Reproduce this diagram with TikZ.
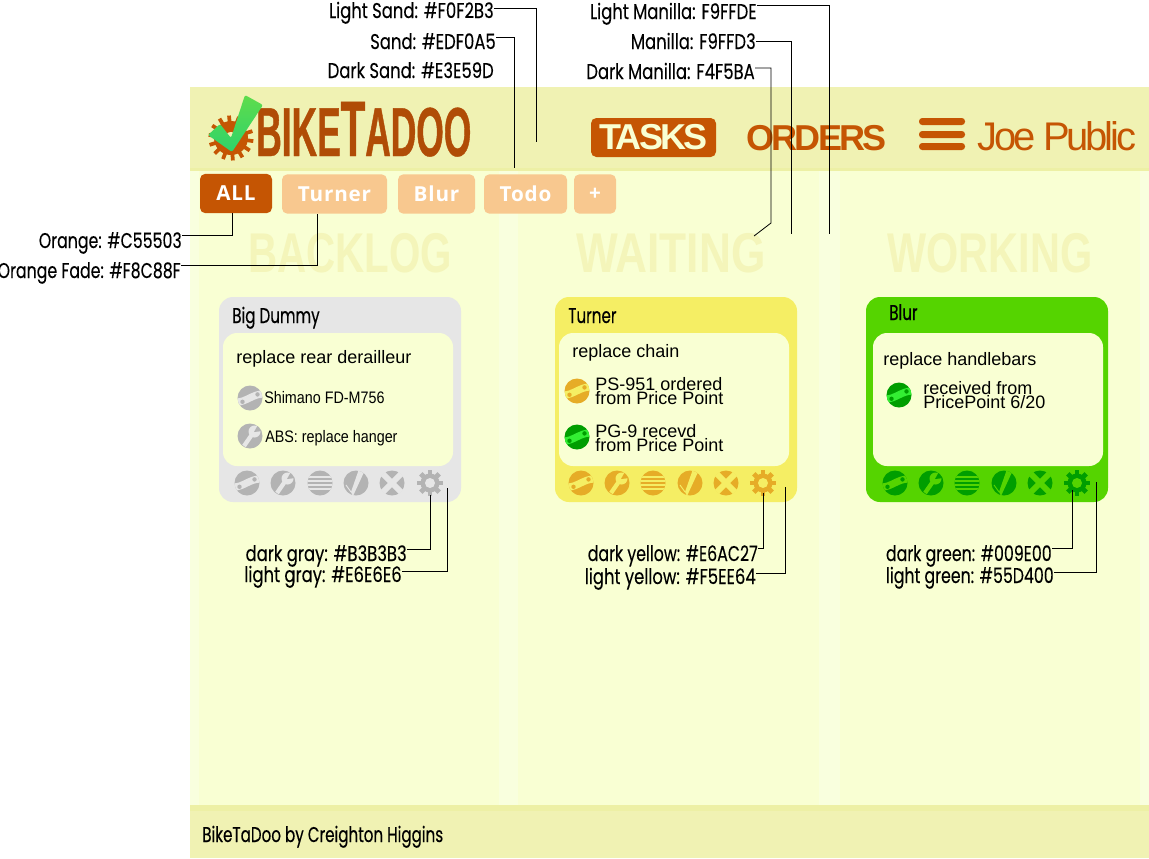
\documentclass[tikz,border=0pt]{standalone}
\usepackage{fontspec}
\setmainfont{Liberation Sans}
\newfontfamily\futfont[FakeStretch=0.77,FakeBold=0.15]{Poppins}
\newfontfamily\futnfont[FakeStretch=0.74,FakeBold=0.15]{Poppins}
\newfontfamily\titlefont[FakeStretch=0.71,FakeBold=0.3]{Poppins}
\newfontfamily\colfont[FakeStretch=0.72]{Liberation Sans Bold}
\newfontfamily\colwfont[FakeStretch=0.79]{Liberation Sans Bold}
\newfontfamily\colkfont[FakeStretch=0.74]{Liberation Sans Bold}
\newfontfamily\logofont[FakeStretch=0.51,FakeBold=0.6]{Liberation Sans Bold}
\newfontfamily\navbold[LetterSpace=-7.5]{Liberation Sans Bold}
\newfontfamily\navreg[LetterSpace=-8]{Liberation Sans}
\newfontfamily\tabfont[LetterSpace=4]{Open Sans Bold}
\newfontfamily\narrowfont[FakeStretch=0.86]{Liberation Sans}
\definecolor{lsand}{HTML}{F0F2B3}
\definecolor{sand}{HTML}{EDF0A5}
\definecolor{lman}{HTML}{F9FFDE}
\definecolor{man}{HTML}{F9FFD3}
\definecolor{dman}{HTML}{F4F5BA}
\definecolor{orange1}{HTML}{C55503}
\definecolor{fade1}{HTML}{F8C88F}
\definecolor{gdark}{HTML}{B3B3B3}
\definecolor{glight}{HTML}{E6E6E6}
\definecolor{ydark}{HTML}{E6AC27}
\definecolor{ylight}{HTML}{F5EE64}
\definecolor{grdark}{HTML}{009E00}
\definecolor{grlight}{HTML}{55D400}
\definecolor{grband}{HTML}{33EE33}
\definecolor{logoC}{HTML}{B04C06}
\tikzset{
  lab/.style={font=\futfont\fontsize{16}{16}\selectfont,anchor=base east,inner sep=0pt,text=black},
  labn/.style={lab,font=\futnfont\fontsize{16}{16}\selectfont},
  ln/.style={draw=black,line width=0.6pt},
  tabbox/.style={rounded corners=4pt,inner sep=0pt,text=white,font=\tabfont\fontsize{15.5}{16}\selectfont,minimum height=29.5pt},
  coltitle/.style={font=\colfont\fontsize{42}{42}\selectfont,text=dman,inner sep=0pt,anchor=base},
  cardtitle/.style={font=\titlefont\fontsize{16}{16}\selectfont,anchor=base west,inner sep=0pt},
  tasktext/.style={font=\fontsize{13.5}{14}\selectfont,anchor=base west,inner sep=0pt},
  smalltext/.style={font=\narrowfont\fontsize{12.5}{13}\selectfont,anchor=base west,inner sep=0pt},
  twoline/.style={font=\fontsize{13.5}{10.1}\selectfont,align=left,anchor=west,inner sep=0pt},
  pics/linkicon/.style n args={2}{code={
    \fill[#1] (0,0) circle (12.5);
    \begin{scope}
      \clip (0,0) circle (12.5);
      \draw[#2,line width=5.4pt] (-13,4) .. controls (-4,4) and (3,-4) .. (13,-4);
    \end{scope}
    \fill[#1] (-7.5,3.8) circle (2.2) (7.5,-3.6) circle (2.2);
  }},
  pics/wrenchicon/.style n args={2}{code={
    \fill[#1] (0,0) circle (12.5);
    \begin{scope}
      \clip (0,0) circle (12.5);
      \draw[#2,line width=3.2pt] (-6,10) -- (3,-3);
      \fill[#2] (4.5,-4.5) circle (6);
      \fill[#1] (4,-4) -- (9,-13) -- (13,-5) -- cycle;
    \end{scope}
  }},
  pics/linesicon/.style n args={2}{code={
    \fill[#1] (0,0) circle (12.5);
    \begin{scope}
      \clip (0,0) circle (12.5);
      \foreach \yy in {-6,-2,2,6} \draw[#2,line width=1.1pt] (-13,\yy) -- (13,\yy);
    \end{scope}
  }},
  pics/checkicon/.style n args={2}{code={
    \fill[#1] (0,0) circle (12.5);
    \begin{scope}
      \clip (0,0) circle (12.5);
      \fill[#2] (3,-14) -- (9,-13) -- (-3,13) -- (-5,9) -- cycle;
      \draw[#2,line width=0.7pt] (-10,2) -- (-5,9);
    \end{scope}
  }},
  pics/crossicon/.style n args={2}{code={
    \fill[#1] (0,0) circle (12.5);
    \begin{scope}
      \clip (0,0) circle (13);
      \draw[#2,line width=4.4pt] (-13,-13) -- (13,13) (-13,13) -- (13,-13);
    \end{scope}
  }},
  pics/gearicon/.style n args={2}{code={
    \fill[#1] (0,0) circle (9.5);
    \foreach \aa in {0,45,...,315} \draw[#1,line width=3.6pt] (0,0) ++(\aa:7) -- ++(\aa:6);
    \fill[#2] (0,0) circle (5);
  }},
}
\newcommand{\toolrow}[8]{%
  \pic at (#1,483) {linkicon={#7}{#8}};
  \pic at (#2,483) {wrenchicon={#7}{#8}};
  \pic at (#3,483) {linesicon={#7}{#8}};
  \pic at (#4,483) {checkicon={#7}{#8}};
  \pic at (#5,483) {crossicon={#7}{#8}};
  \pic at (#6,483) {gearicon={#7}{#8}};
}
\begin{document}
\begin{tikzpicture}[x=0.75pt,y=-0.75pt]
\useasboundingbox (0,0) rectangle (1149,858);
% page
\fill[man] (190,87) rectangle (1149,858);
\fill[lman] (190,170) rectangle (199,806);
\fill[lman] (499,170) rectangle (518,806);
\fill[lman] (819,170) rectangle (840,806);
\fill[lman] (1140,170) rectangle (1149,806);
\fill[lsand] (190,87) rectangle (1149,168);
\fill[sand] (190,168) rectangle (1149,171);
\fill[sand] (190,805) rectangle (1149,811);
\fill[lsand] (190,811) rectangle (1149,858);
% logo
\fill[orange1] (231,138) circle (17);
\foreach \aa in {0,25.7,...,340} \draw[orange1,line width=2.8pt] (231,138) ++(\aa+8:14) -- ++(\aa+8:8.5);
\fill[lsand] (231,138) circle (6);
\node[font=\logofont\fontsize{52}{52}\selectfont,text=logoC,anchor=base west,inner sep=0pt] (logo) at (256,156) {BIKE{\fontsize{59}{59}\selectfont T}ADOO};
\shade[rounded corners=1.5pt,
  top color={rgb,255:red,95;green,220;blue,76},bottom color={rgb,255:red,46;green,211;blue,106}]
  (208,135) -- (220,124) -- (231,138) -- (245,95) -- (263,105) -- (232,152) -- cycle;
% nav
\node[fill=orange1,rounded corners=4pt,minimum width=125*0.75pt,minimum height=39*0.75pt,inner sep=0pt,text=man,font=\navbold\fontsize{27}{27}\selectfont] (tasks) at (653.5,137.5) {TASKS};
\node[text=orange1,font=\navbold\fontsize{27}{27}\selectfont,anchor=base west,inner sep=0pt] (orders) at (746,150) {ORDERS};
\fill[orange1,rounded corners=2.4pt] (919,118) rectangle (965,125) (919,131) rectangle (965,138) (919,143) rectangle (965,150);
\node[text=orange1,font=\navreg\fontsize{30}{30}\selectfont,anchor=base west,inner sep=0pt] (joe) at (977,150) {Joe Public};
% tabs
\node[tabbox,fill=orange1,minimum width=72*0.75pt] (tabAll) at (236,193.5) {ALL};
\node[tabbox,fill=fade1,minimum width=105*0.75pt] (tabTurner) at (334.5,194) {Turner};
\node[tabbox,fill=fade1,minimum width=77*0.75pt] (tabBlur) at (436.5,194) {Blur};
\node[tabbox,fill=fade1,minimum width=83*0.75pt] (tabTodo) at (525.5,194) {Todo};
\node[tabbox,fill=fade1,minimum width=42*0.75pt] (tabPlus) at (595,194) {+};
% column titles
\node[coltitle] (backlog) at (350,272) {BACKLOG};
\node[coltitle,font=\colwfont\fontsize{42}{42}\selectfont] (waiting) at (671,272) {WAITING};
\node[coltitle,font=\colkfont\fontsize{42}{42}\selectfont] (working) at (990,272) {WORKING};
% cards
\fill[glight,rounded corners=10.5pt] (219,297) rectangle (461,502);
\fill[man,rounded corners=10.5pt] (223,333) rectangle (453,466);
\fill[ylight,rounded corners=10.5pt] (555,297) rectangle (797,502);
\fill[man,rounded corners=10.5pt] (559,333) rectangle (789,466);
\fill[grlight,rounded corners=10.5pt] (866,297) rectangle (1108,502);
\fill[man,rounded corners=10.5pt] (873,333) rectangle (1103,466);
\toolrow{247}{283}{320}{356}{392}{430}{gdark}{glight}
\toolrow{581}{617}{653}{690}{726}{763}{ydark}{ylight}
\toolrow{895}{931}{967}{1004}{1040}{1077}{grdark}{grlight}
% gray card
\node[cardtitle] (t1) at (232,323) {Big Dummy};
\node[tasktext] (d1) at (236,363) {replace rear derailleur};
\pic at (250,398) {linkicon={gdark}{glight}};
\node[smalltext] (s1) at (264,403) {Shimano FD-M756};
\pic at (250,436) {wrenchicon={gdark}{glight}};
\node[smalltext] (s2) at (265,442) {ABS: replace hanger};
% yellow card
\node[cardtitle] (t2) at (568,323) {Turner};
\node[tasktext] (d2) at (572,357) {replace chain};
\pic at (577,391) {linkicon={ydark}{ylight}};
\node[twoline] (s3) at (595,391) {PS-951 ordered\\from Price Point};
\pic at (577,437) {linkicon={grdark}{grband}};
\node[twoline] (s4) at (595,438) {PG-9 recevd\\from Price Point};
% green card
\node[cardtitle] (t3) at (889,320) {Blur};
\node[tasktext] (d3) at (883,365) {replace handlebars};
\pic at (899,395) {linkicon={grdark}{grband}};
\node[twoline] (s5) at (923,395) {received from\\PricePoint 6/20};
% footer
\node[cardtitle] (foot) at (202,842) {BikeTaDoo by Creighton Higgins};
% labels
\node[lab] (lLS) at (494,18) {Light Sand: \#F0F2B3};
\node[lab] (lS) at (496,49) {Sand: \#EDF0A5};
\node[lab] (lDS) at (494,78) {Dark Sand: \#E3E59D};
\node[lab] (lLM) at (757,19) {Light Manilla: F9FFDE};
\node[lab] (lM) at (756,49) {Manilla: F9FFD3};
\node[lab] (lDM) at (755,79) {Dark Manilla: F4F5BA};
\node[labn] (lO) at (182,248) {Orange: \#C55503};
\node[labn] (lOF) at (181,278) {Orange Fade: \#F8C88F};
\node[lab] (lDG) at (407,561) {dark gray: \#B3B3B3};
\node[lab] (lLG) at (402,582) {light gray: \#E6E6E6};
\node[labn] (lDY) at (758,561) {dark yellow: \#E6AC27};
\node[lab] (lLY) at (756,584) {light yellow: \#F5EE64};
\node[labn] (lDGr) at (1052,561) {dark green: \#009E00};
\node[labn] (lLGr) at (1054,583) {light green: \#55D400};
% free connector ends
\coordinate (eLS) at (536,142);
\coordinate (eS) at (514,168);
\coordinate (eLM) at (829,234);
\coordinate (eM) at (791,234);
\coordinate (bDM) at (771,223);
\coordinate (eDM) at (754,236);
\coordinate (eDG) at (430,495);
\coordinate (eLG) at (447,488);
\coordinate (eDY) at (763,493);
\coordinate (eLY) at (785,487);
\coordinate (eDGr) at (1072,490);
\coordinate (eLGr) at (1096,482);
% connectors
\draw[ln] (lLS.base east) ++(0,-10) -| (eLS);
\draw[ln] (lS.base east) ++(0,-12) -| (eS);
\draw[ln] (lLM.base east) ++(0,-14) -| (eLM);
\draw[ln] (lM.base east) ++(0,-8) -| (eM);
\draw[ln] (lDM.base east) ++(0,-11) -| (bDM) -- (eDM);
\draw[ln] (lO.base east) ++(0,-13) -| ([xshift=-3pt]tabAll.south);
\draw[ln] (lOF.base east) ++(0,-13) -| ([xshift=-13pt]tabTurner.south);
\draw[ln] (lDG.base east) ++(0,-12) -| (eDG);
\draw[ln] (lLG.base east) ++(0,-11) -| (eLG);
\draw[ln] (lDY.base east) ++(0,-13) -| (eDY);
\draw[ln] (lLY.base east) ++(0,-11) -| (eLY);
\draw[ln] (lDGr.base east) ++(0,-13) -| (eDGr);
\draw[ln] (lLGr.base east) ++(0,-11) -| (eLGr);
\end{tikzpicture}
\end{document}
